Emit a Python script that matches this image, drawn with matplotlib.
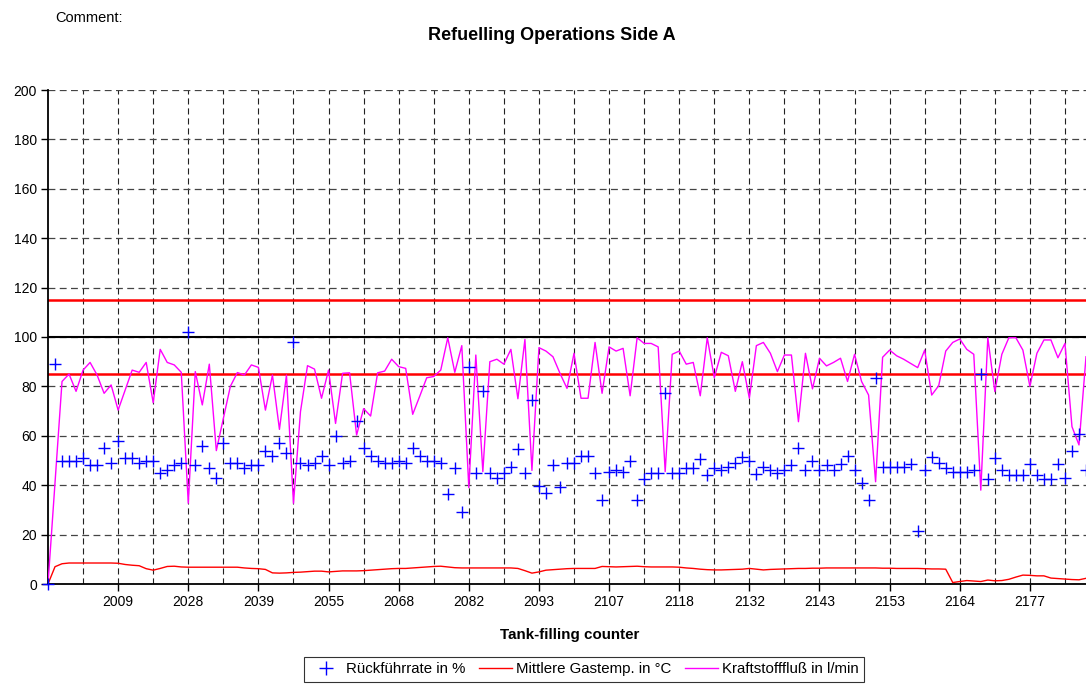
import matplotlib
matplotlib.use("Agg")
import matplotlib.pyplot as plt
import numpy as np
from matplotlib.lines import Line2D

plt.rcParams['font.family'] = ['Liberation Sans', 'DejaVu Sans']

title = "Refuelling Operations Side A"
x_title = "Tank-filling counter"

tick_index = [10, 20, 30, 40, 50, 60, 70, 80, 90, 100, 110, 120, 130, 140]
tick_labels = ["2009", "2028", "2039", "2055", "2068", "2082", "2093", "2107",
               "2118", "2132", "2143", "2153", "2164", "2177"]

rueckfuehrrate = [
    0, 89, 50, 50, 50, 51, 48, 48, 55, 49,
    58, 51, 51, 49, 50, 50, 45, 46, 48, 49,
    102, 48, 56, 47, 43, 57, 49, 49, 47, 48,
    48, 54, 52, 57, 53, 98, 49, 48, 49, 52,
    48, 60, 49, 50, 66, 55, 52, 50, 49, 49,
    50, 49, 55, 52, 50, 50, 49, 36.4, 47, 29.3,
    88, 45, 78, 45, 43, 45, 47.5, 54.5, 45, 74.5,
    39.7, 37, 48, 39.4, 49, 49, 52, 52, 45, 34,
    45.5, 46, 45.5, 50, 34, 42.4, 45, 45, 77.5, 45,
    45, 47, 47, 50.5, 44, 47, 46, 47.5, 49, 51.5,
    50, 44.4, 47.5, 46, 45, 46, 48, 55, 46, 50,
    46, 48, 46, 48.5, 52, 46, 41, 34, 83.5, 47.5,
    47.5, 47.5, 47.5, 48.5, 21.5, 46, 51.5, 49, 47, 45.5,
    45.5, 45.5, 46, 85, 42.5, 51, 46, 44, 44, 44,
    48.5, 44, 42.5, 42.5, 48.5, 42.8, 54, 60.6, 46,
]

gastemp = [
    0, 7, 8.2, 8.5, 8.5, 8.5, 8.5, 8.5, 8.5, 8.5,
    8.4, 7.9, 7.6, 7.4, 6.2, 5.6, 6.3, 7.1, 7.2, 6.9,
    6.8, 6.8, 6.8, 6.8, 6.8, 6.8, 6.8, 6.8, 6.5, 6.3,
    6.2, 5.9, 4.5, 4.4, 4.5, 4.7, 4.8, 5.0, 5.2, 5.2,
    4.9, 5.1, 5.3, 5.3, 5.3, 5.4, 5.6, 5.8, 6.0, 6.2,
    6.3, 6.3, 6.5, 6.7, 6.9, 7.1, 7.2, 6.9, 6.6, 6.5,
    6.5, 6.5, 6.5, 6.5, 6.5, 6.5, 6.5, 6.3, 5.4, 4.4,
    4.9, 5.6, 5.8, 6.0, 6.2, 6.3, 6.3, 6.3, 6.3, 7.1,
    7.0, 6.9, 7.0, 7.1, 7.2, 7.0, 6.9, 6.9, 6.9, 6.9,
    6.8, 6.5, 6.3, 6.0, 5.8, 5.7, 5.7, 5.8, 5.9, 6.0,
    6.3, 6.0, 5.7, 5.9, 6.0, 6.1, 6.2, 6.3, 6.3, 6.4,
    6.4, 6.5, 6.5, 6.5, 6.5, 6.5, 6.5, 6.5, 6.5, 6.4,
    6.4, 6.3, 6.3, 6.3, 6.3, 6.2, 6.1, 6.1, 6.0, 0.6,
    1.0, 1.4, 1.2, 1.0, 1.6, 1.3, 1.4, 1.9, 2.8, 3.6,
    3.5, 3.3, 3.3, 2.4, 2.2, 2.0, 1.8, 1.7, 2.3,
]

kraftstofffluss = [
    0, 41, 82, 85, 78, 86.6, 89.7, 84.6, 77.2, 80.6,
    70.4, 78.5, 86.6, 85.7, 89.7, 73.4, 95, 89.7, 88.7, 85.7,
    32.7, 86, 72.5, 89, 54, 67, 80, 85.6, 84.6, 88.7,
    87.7, 70.4, 84.6, 62.6, 84.6, 32.7, 69.8, 88.4, 87, 75.2,
    86.6, 65, 85.3, 85.5, 60.3, 71, 68, 85.5, 86.2, 91,
    88, 87.3, 68.7, 76, 83.5, 84, 86.6, 99.7, 85.7, 96.5,
    39, 92.7, 45.5, 90, 91, 89, 95, 75, 99, 46,
    95.7, 94.3, 92, 85.3, 79.2, 93.4, 75.2, 75.2, 97.8, 77.2,
    96, 94.3, 95.4, 76.2, 99.7, 97.4, 97.4, 96, 45.5, 93,
    94.3, 89, 89.7, 76.2, 99.7, 83.5, 93.8, 92.4, 78, 90,
    75.2, 96.5, 97.8, 93.4, 86, 92.7, 92.7, 65.7, 93.4, 79,
    91.4, 88.3, 89.7, 91.4, 82, 93, 82, 76.5, 41.4, 91.8,
    94.7, 92.4, 91, 89.3, 87.6, 94.7, 76.5, 80.3, 94.3, 97.8,
    99.2, 95, 93, 38, 99.7, 77.9, 93, 99.7, 99.7, 94.7,
    80, 93.4, 98.8, 98.8, 91.6, 97.4, 63.7, 56.3, 92,
]

limit_low = 85
limit_high = 115
reference = 100

legend_labels = ["Rückführrate in %", "Mittlere Gastemp. in °C", "Kraftstofffluß in l/min"]

W, H = 1086, 684
fig = plt.figure(figsize=(W / 100, H / 100), dpi=100)
ax = fig.add_axes([48 / W, (H - 584) / H, 1038 / W, 494 / H])

idx = np.arange(len(rueckfuehrrate))

ax.set_xlim(0, len(rueckfuehrrate) - 1)
ax.set_ylim(0, 200)

ax.set_yticks(np.arange(0, 201, 20))
ax.set_xticks(tick_index)
ax.set_xticklabels(tick_labels)
ax.set_xticks(np.arange(5, len(rueckfuehrrate), 5), minor=True)
ax.grid(True, axis='y', which='major', color='#444444', linestyle=(0, (5.5, 3.5)), linewidth=0.9, zorder=1)
ax.grid(True, axis='x', which='both', color='#222222', linestyle=(0, (5.5, 3.5)), linewidth=0.8, zorder=1)
ax.tick_params(axis='x', which='minor', length=0)
ax.tick_params(axis='x', which='major', length=5, width=1, direction='out', labelsize=10, pad=3)
ax.tick_params(axis='y', length=5, width=1, direction='out', labelsize=10, pad=3)

for s in ['top', 'right']:
    ax.spines[s].set_visible(False)
for s in ['left', 'bottom']:
    ax.spines[s].set_linewidth(1.3)
    ax.spines[s].set_color('black')

ax.axhline(limit_high, color='#FF0000', linewidth=1.8, zorder=2)
ax.axhline(limit_low, color='#FF0000', linewidth=1.8, zorder=2)
ax.axhline(reference, color='black', linewidth=1.5, zorder=2)

ax.plot(idx, gastemp, color='#FF0000', linewidth=1.0, zorder=3)
ax.plot(idx, kraftstofffluss, color='#FF00FF', linewidth=1.0, zorder=4)
ax.plot(idx, rueckfuehrrate, linestyle='none', marker='+', color='#0000FF',
        markersize=8.5, markeredgewidth=1.0, zorder=5, clip_on=False)

fig.text(552 / W, 1 - 36 / H, title, ha='center', va='center', fontsize=13, fontweight='bold')
fig.text(55 / W, 1 - 18 / H, "Comment:", ha='left', va='center', fontsize=10.5)
fig.text(570 / W, 1 - 635 / H, x_title, ha='center', va='center', fontsize=10.9, fontweight='bold')

handles = [
    Line2D([], [], linestyle='none', marker='+', color='#0000FF', markersize=10, markeredgewidth=1.0),
    Line2D([], [], color='#FF0000', linewidth=1.0),
    Line2D([], [], color='#FF00FF', linewidth=1.0),
]
leg = fig.legend(handles, legend_labels, loc='upper center', bbox_to_anchor=(584 / W, 1 - 657 / H),
                 ncol=3, fontsize=10.8, frameon=True, fancybox=False, edgecolor='black',
                 handlelength=2.2, handletextpad=0.25, columnspacing=0.9, borderpad=0.35,
                 borderaxespad=0)
leg.get_frame().set_linewidth(0.8)

fig.savefig("out.png", dpi=100)
